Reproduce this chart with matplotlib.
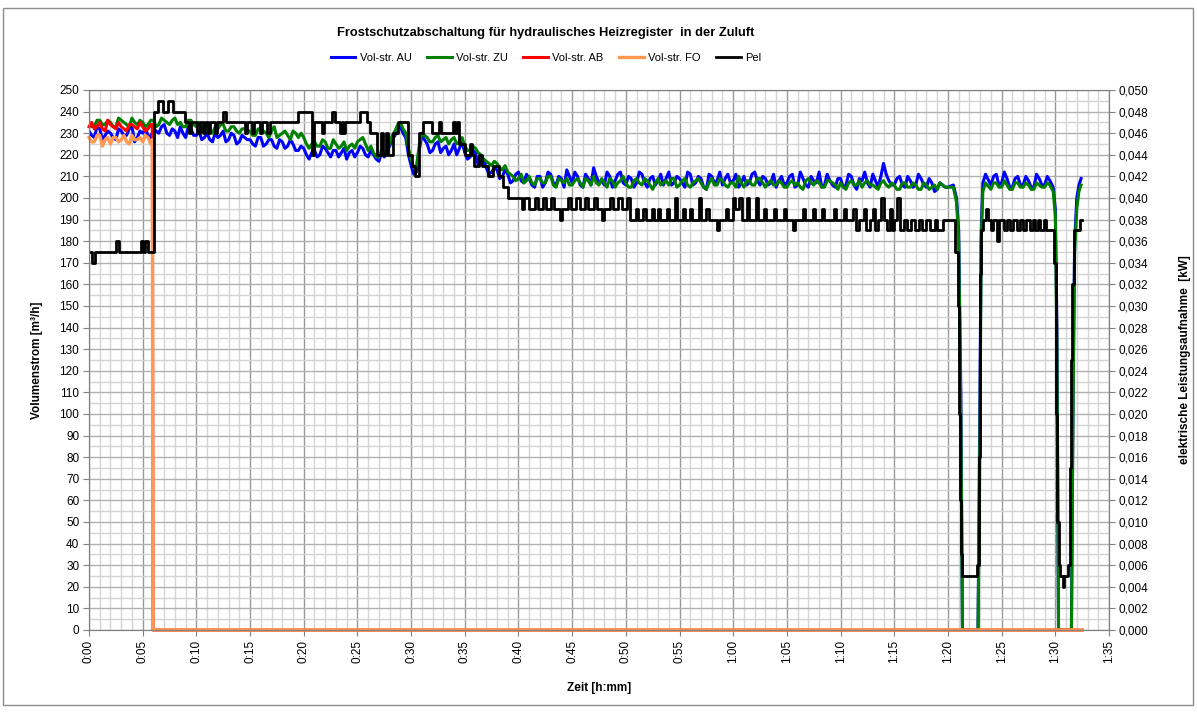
import numpy as np
import matplotlib
matplotlib.use("Agg")
import matplotlib.pyplot as plt
from matplotlib.patches import Rectangle
from matplotlib.ticker import MultipleLocator, FixedLocator

plt.rcParams['font.family'] = ['Liberation Sans', 'DejaVu Sans']

# ---------------- data (time in minutes) ----------------
# AU / ZU: samples on full/half minutes (T_REG), on quarter offsets (T_Q), and irregular samples through the dips
T_REG = [i * 0.5 for i in range(161)]
T_Q = [0.25 + i * 0.5 for i in range(160)]
T_DIP = [80.5, 80.8, 81.0, 81.2, 81.35, 82.8, 82.95, 83.1, 83.25, 83.5, 84.0, 84.25, 84.5, 84.75,
         85.0, 85.25, 85.5, 85.75, 86.0, 86.25, 86.5, 86.75, 87.0, 87.25, 87.5, 87.75, 88.0,
         88.25, 88.5, 88.75, 89.0, 89.25, 89.5, 89.8, 90.0, 90.15, 90.3, 91.5, 91.65,
         91.8, 92.0, 92.2, 92.4]

au_main = [231, 228, 232, 229, 230, 227, 231, 229, 233, 228,
           230, 229, 232, 230, 234, 229, 231, 233, 228, 232,
           229, 227, 230, 226, 228, 231, 227, 229, 226, 228,
           227, 224, 228, 225, 227, 223, 226, 224, 225, 222,
           223, 218, 222, 220, 223, 219, 222, 221, 218, 222,
           221, 223, 219, 220, 217, 219, 224, 229, 233, 228,
           215, 212, 229, 225, 222, 226, 223, 220, 225, 223,
           221, 219, 221, 217, 214, 212, 213, 210, 211, 208,
           212, 207, 209, 205, 210, 207, 211, 206, 209, 213,
           207, 210, 205, 209, 214, 207, 206, 210, 208, 212,
           206, 209, 207, 211, 205, 210, 208, 206, 212, 207,
           209, 205, 211, 207, 209, 204, 210, 208, 206, 211,
           208, 205, 210, 207, 212, 206, 209, 207, 205, 210,
           207, 211, 206, 209, 205, 208, 212, 206, 208, 205,
           209, 206, 210, 204, 208, 207, 211, 205, 216, 208,
           206, 210, 205, 208, 206, 209, 205, 207, 204, 206,
           205]
au_q = [229, 233, 227, 231, 228, 232, 229, 232, 226, 231,
        232, 228, 231, 233, 230, 232, 228, 230, 233, 229,
        231, 228, 227, 230, 229, 226, 230, 225, 229, 227,
        225, 228, 224, 227, 224, 227, 223, 227, 222, 224,
        220, 221, 219, 224, 221, 222, 219, 223, 221, 219,
        224, 220, 222, 218, 221, 222, 227, 232, 230, 220,
        211, 222, 227, 221, 225, 221, 224, 222, 220, 226,
        218, 222, 215, 218, 211, 214, 209, 213, 207, 211,
        208, 211, 206, 210, 205, 212, 207, 210, 205, 210,
        212, 206, 211, 206, 210, 208, 212, 205, 211, 207,
        210, 205, 212, 207, 209, 206, 211, 209, 206, 210,
        207, 212, 206, 210, 205, 211, 207, 212, 209, 207,
        211, 207, 206, 211, 208, 210, 206, 211, 208, 206,
        210, 205, 212, 206, 210, 207, 205, 211, 206, 209,
        205, 211, 206, 209, 212, 205, 208, 210, 211, 206,
        209, 206, 210, 205, 211, 206, 209, 203, 207, 205]
au_dip = [206, 200, 185, 110, 0, 0, 90, 185, 207, 211, 206, 210, 211, 206, 207, 212,
          209, 205, 205, 209, 210, 206, 206, 210, 208, 205, 205, 211, 209, 206,
          206, 210, 208, 205, 195, 140, 0, 0, 110, 180, 200, 206, 209]

zu_main = [235, 233, 236, 234, 235, 233, 236, 234, 237, 234,
           235, 234, 236, 234, 236, 234, 237, 235, 233, 236,
           233, 231, 234, 230, 232, 234, 231, 233, 230, 232,
           231, 229, 232, 230, 231, 228, 230, 229, 231, 228,
           228, 223, 226, 224, 226, 223, 225, 224, 222, 225,
           226, 228, 222, 221, 219, 221, 226, 231, 235, 230,
           218, 215, 230, 228, 226, 229, 227, 225, 228, 226,
           224, 222, 223, 220, 217, 215, 216, 213, 212, 210,
           209, 207, 210, 206, 209, 207, 210, 205, 208, 209,
           206, 209, 205, 208, 210, 206, 207, 209, 205, 208,
           207, 205, 209, 206, 208, 204, 209, 207, 206, 209,
           206, 209, 205, 208, 207, 204, 209, 206, 208, 205,
           207, 210, 205, 208, 206, 209, 205, 208, 206, 207,
           205, 208, 207, 204, 209, 206, 207, 205, 208, 206,
           207, 204, 208, 206, 205, 208, 206, 204, 208, 205,
           206, 204, 207, 205, 206, 204, 206, 205, 204, 206,
           205]
zu_q = [233, 236, 234, 236, 233, 237, 235, 233, 235, 236,
        233, 236, 233, 237, 235, 236, 234, 233, 236, 234,
        235, 233, 231, 233, 234, 231, 233, 231, 232, 231,
        229, 232, 231, 228, 233, 229, 231, 227, 230, 230,
        225, 225, 224, 227, 223, 227, 223, 226, 224, 223,
        227, 225, 224, 219, 222, 220, 229, 234, 232, 223,
        214, 224, 229, 226, 228, 226, 228, 227, 225, 228,
        222, 224, 221, 218, 216, 217, 214, 215, 211, 208,
        211, 208, 207, 209, 207, 210, 206, 209, 207, 206,
        208, 207, 209, 206, 207, 209, 205, 208, 207, 210,
        205, 208, 207, 209, 206, 207, 206, 208, 209, 205,
        208, 206, 207, 209, 205, 207, 206, 209, 206, 207,
        205, 207, 208, 206, 209, 207, 207, 206, 208, 205,
        207, 206, 205, 208, 207, 208, 205, 208, 207, 204,
        205, 207, 206, 208, 207, 206, 205, 207, 206, 207,
        204, 207, 205, 207, 204, 207, 204, 206, 207, 205]
zu_dip = [205, 198, 180, 100, 0, 0, 70, 180, 203, 207, 204, 207, 207, 205, 205, 208,
          206, 204, 204, 207, 207, 205, 205, 207, 206, 204, 204, 207, 206, 205,
          205, 207, 206, 203, 192, 130, 0, 0, 100, 175, 195, 203, 206]

# AB / FO only measured until ~6 min, then zero
T_AB = [0, 0.25, 0.5, 0.75, 1.0, 1.25, 1.5, 1.75, 2.0, 2.25, 2.5, 2.75, 3.0, 3.25, 3.5,
        3.75, 4.0, 4.25, 4.5, 4.75, 5.0, 5.25, 5.5, 5.75, 5.9, 5.96, 92.5]
ab = [233, 235, 232, 233, 235, 232, 231, 236, 234, 233, 232, 235, 233, 232, 231, 234,
      234, 233, 232, 235, 233, 231, 232, 234, 234, 0, 0]
fo = [228, 226, 226, 229, 229, 224, 227, 228, 225, 228, 228, 226, 227, 229, 226, 225,
      229, 227, 227, 228, 226, 229, 228, 225, 227, 0, 0]

# Pel (kW) as step changes: (time of change, new level)
pel_t = [0.0, 0.25, 0.6, 2.5, 2.75, 4.8, 5.05, 5.2, 5.45, 6.1, 6.4, 6.9, 7.4, 7.8, 8.9,
         9.3, 9.5, 10.1, 10.3, 10.6, 10.8, 11.1, 11.3, 11.7, 11.9, 12.5, 12.8, 14.5, 14.7,
         15.2, 15.4, 15.9, 16.1, 16.6, 16.9, 19.5, 20.8, 20.95, 21.7, 21.9, 22.6, 22.9,
         23.4, 23.55, 23.7, 23.85, 25.2, 25.9, 26.2, 26.8, 27.2, 27.35, 27.7, 27.85, 28.3,
         28.8, 29.7, 30.1, 30.4, 30.7, 31.1, 31.9, 32.6, 32.8, 33.9, 34.1, 34.3, 34.5,
         35.0, 35.5, 35.7, 35.9, 36.3, 36.6, 37.2, 37.6, 38.2, 38.6, 39.0, 40.3, 40.5,
         41.0, 41.5, 41.8, 42.3, 42.6, 43.0, 43.3, 43.9, 44.1, 44.6, 44.9, 45.4, 45.7,
         46.2, 46.5, 47.0, 47.3, 47.8, 48.0, 48.5, 48.8, 49.3, 49.6, 50.1, 50.4, 50.9,
         51.1, 51.6, 51.9, 52.4, 52.6, 53.0, 53.2, 53.8, 54.0, 54.6, 54.8, 55.3, 55.5,
         56.0, 56.2, 56.8, 57.0, 57.5, 57.7, 58.5, 58.7, 59.3, 59.5, 60.0, 60.2, 60.5,
         60.8, 61.3, 61.5, 62.1, 62.3, 62.9, 63.1, 63.8, 64.0, 64.7, 64.9, 65.6, 65.8,
         66.5, 66.7, 67.4, 67.6, 68.3, 68.5, 69.4, 69.6, 70.3, 70.5, 71.2, 71.4, 71.7,
         72.2, 72.4, 72.7, 73.0, 73.2, 73.5, 73.8, 74.0, 74.3, 74.6, 74.8, 75.0, 75.3,
         75.5, 75.9, 76.2, 76.6, 76.9, 77.3, 77.6, 78.0, 78.3, 78.8, 79.0, 79.5, 80.7,
         80.9, 81.0, 81.1, 81.2, 81.35, 82.7, 82.85, 82.9, 82.95, 83.0, 83.1, 83.3, 83.5,
         83.7, 84.0, 84.2, 84.6, 84.8, 85.2, 85.5, 85.8, 86.1, 86.4, 86.7, 87.0, 87.3,
         87.6, 87.9, 88.1, 88.4, 88.6, 88.9, 89.1, 89.9, 90.1, 90.2, 90.3, 90.4, 90.7,
         90.8, 91.2, 91.35, 91.5, 91.6, 91.7, 92.3, 92.5]
pel_v = [0.035, 0.034, 0.035, 0.036, 0.035, 0.036, 0.035, 0.036, 0.035, 0.048, 0.049, 0.048, 0.049, 0.048, 0.047,
         0.046, 0.047, 0.046, 0.047, 0.046, 0.047, 0.046, 0.047, 0.046, 0.047, 0.048, 0.047, 0.046, 0.047,
         0.046, 0.047, 0.046, 0.047, 0.046, 0.047, 0.048, 0.044, 0.047, 0.046, 0.047, 0.048, 0.047,
         0.046, 0.047, 0.046, 0.047, 0.048, 0.047, 0.046, 0.044, 0.046, 0.044, 0.046, 0.044, 0.046,
         0.047, 0.044, 0.043, 0.042, 0.046, 0.047, 0.046, 0.047, 0.046, 0.047, 0.046, 0.047, 0.045,
         0.044, 0.045, 0.044, 0.043, 0.044, 0.043, 0.042, 0.043, 0.042, 0.041, 0.040, 0.039, 0.040,
         0.039, 0.040, 0.039, 0.040, 0.039, 0.040, 0.039, 0.038, 0.039, 0.040, 0.039, 0.040, 0.039,
         0.040, 0.039, 0.040, 0.039, 0.038, 0.039, 0.040, 0.039, 0.040, 0.039, 0.040, 0.038, 0.039,
         0.038, 0.039, 0.038, 0.039, 0.038, 0.039, 0.038, 0.039, 0.038, 0.040, 0.038, 0.039, 0.038,
         0.039, 0.038, 0.040, 0.038, 0.039, 0.038, 0.037, 0.038, 0.039, 0.038, 0.040, 0.039, 0.040,
         0.038, 0.040, 0.038, 0.040, 0.038, 0.039, 0.038, 0.039, 0.038, 0.039, 0.038, 0.037, 0.038,
         0.039, 0.038, 0.039, 0.038, 0.039, 0.038, 0.039, 0.038, 0.039, 0.038, 0.039, 0.037, 0.038,
         0.039, 0.037, 0.038, 0.039, 0.037, 0.038, 0.040, 0.038, 0.037, 0.039, 0.037, 0.038, 0.040,
         0.037, 0.038, 0.037, 0.038, 0.037, 0.038, 0.037, 0.038, 0.037, 0.038, 0.037, 0.038, 0.035,
         0.030, 0.020, 0.012, 0.007, 0.005, 0.006, 0.012, 0.016, 0.025, 0.033, 0.037, 0.038, 0.039,
         0.038, 0.037, 0.038, 0.036, 0.038, 0.037, 0.038, 0.037, 0.038, 0.037, 0.038, 0.037, 0.038,
         0.037, 0.038, 0.037, 0.038, 0.037, 0.038, 0.037, 0.034, 0.020, 0.010, 0.006, 0.005, 0.004,
         0.005, 0.006, 0.015, 0.025, 0.032, 0.037, 0.038, 0.038]

x_ticks_min = list(range(0, 100, 5))
x_tick_labels = [f"{m // 60}:{m % 60:02d}" for m in x_ticks_min]


def merged(times_a, vals_a, times_b, vals_b, times_c, vals_c):
    pairs = sorted(zip(times_a + times_b + times_c, vals_a + vals_b + vals_c))
    return [p[0] for p in pairs], [p[1] for p in pairs]


t_au, v_au = merged(T_REG, au_main, T_Q, au_q, T_DIP, au_dip)
t_zu, v_zu = merged(T_REG, zu_main, T_Q, zu_q, T_DIP, zu_dip)

# ---------------- figure ----------------
W, H = 1197, 713
fig = plt.figure(figsize=(W / 100, H / 100), dpi=100)
fig.patches.append(Rectangle((3 / W, 8 / H), 1190 / W, 697 / H, transform=fig.transFigure,
                             fill=False, edgecolor='#8c8c8c', linewidth=1.0))

L, R, T, B = 89, 1109, 90, 630
ax = fig.add_axes([L / W, 1 - B / H, (R - L) / W, (B - T) / H])

ax.set_xlim(0, 95)
ax.set_ylim(0, 250)
ax.xaxis.set_major_locator(FixedLocator(x_ticks_min))
ax.xaxis.set_minor_locator(MultipleLocator(1))
ax.yaxis.set_major_locator(MultipleLocator(10))
ax.yaxis.set_minor_locator(MultipleLocator(5))
ax.set_xticklabels(x_tick_labels, rotation=90, fontsize=8.5)
ax.tick_params(axis='y', labelsize=8.5, length=4, color='#808080', pad=3)
ax.tick_params(axis='x', length=4, color='#808080', pad=3)
ax.tick_params(which='minor', length=0)
ax.grid(which='major', axis='x', color='#9a9a9a', linewidth=1.0)
ax.grid(which='minor', axis='x', color='#d4d4d4', linewidth=1.0)
ax.grid(which='major', axis='y', color='#b0b0b0', linewidth=1.0)
ax.grid(which='minor', axis='y', color='#d4d4d4', linewidth=1.0)
ax.set_axisbelow(True)
for s in ax.spines.values():
    s.set_color('#808080')

ax.plot(t_au, v_au, color='#0000ff', lw=2.2, label='Vol-str. AU')
ax.plot(t_zu, v_zu, color='#008000', lw=2.2, label='Vol-str. ZU')
ax.plot(T_AB, ab, color='#ff0000', lw=2.2, label='Vol-str. AB', clip_on=False)
ax.plot(T_AB, fo, color='#ff9950', lw=2.4, label='Vol-str. FO', clip_on=False)

ax2 = ax.twinx()
ax2.set_ylim(0, 0.05)
ax2.set_yticks(np.arange(0, 0.0501, 0.002))
ax2.set_yticklabels([f"{v:.3f}".replace('.', ',') for v in np.arange(0, 0.0501, 0.002)])
ax2.tick_params(axis='y', labelsize=8.5, length=4, color='#808080', pad=3)
for s in ax2.spines.values():
    s.set_color('#808080')
ax2.plot(pel_t, pel_v, color='black', lw=2.0, drawstyle='steps-post', label='Pel')

ax.set_xlabel('Zeit [h:mm]', fontsize=8.5, fontweight='bold', labelpad=14)
ax.set_ylabel('Volumenstrom [m³/h]', fontsize=8.5, fontweight='bold', labelpad=12)
ax2.set_ylabel('elektrische Leistungsaufnahme  [kW]', fontsize=8.5, fontweight='bold', labelpad=22)

fig.text(546 / W, 1 - 33 / H, 'Frostschutzabschaltung für hydraulisches Heizregister  in der Zuluft',
         ha='center', va='center', fontsize=9.3, fontweight='bold')

h1, l1 = ax.get_legend_handles_labels()
h2, l2 = ax2.get_legend_handles_labels()
fig.legend(h1 + h2, l1 + l2, loc='center', bbox_to_anchor=(546 / W, 1 - 58 / H), ncol=5,
           frameon=False, fontsize=8, handlelength=2.2, handletextpad=0.4, columnspacing=1.4)

fig.savefig('out.png', dpi=100)
